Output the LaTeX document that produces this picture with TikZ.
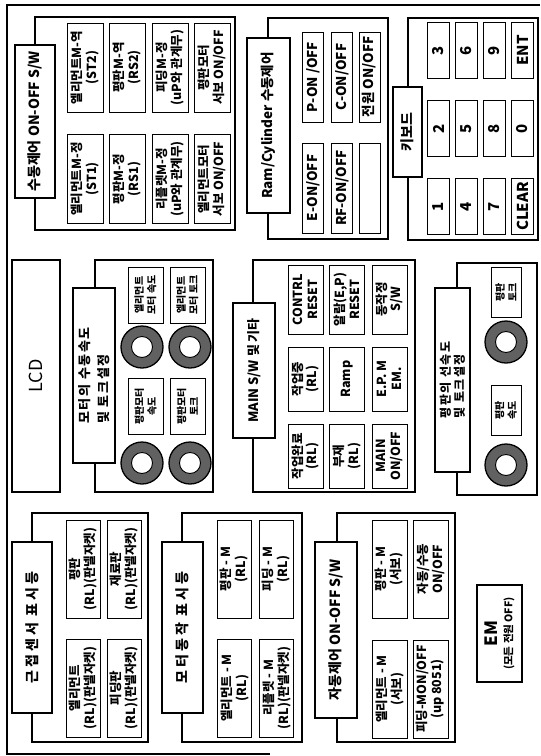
\documentclass[tikz,border=0pt]{standalone}
\usepackage{fontspec}
\setmainfont{Noto Sans CJK KR}

\begin{document}
\begin{tikzpicture}[x=1pt, y=-1pt,
  frame/.style={line width=1.1pt},
  wh/.style 2 args={minimum width=#2, minimum height=#1},
  grp/.style={draw, line width=1.1pt, rotate=90, inner sep=0pt},
  ttl/.style={draw, fill=white, line width=1.1pt, rotate=90, align=center, inner sep=1pt,
    font=\fontsize{14}{17}\selectfont\bfseries},
  spaced/.style={font=\fontsize{14}{17}\selectfont\bfseries\addfontfeature{LetterSpace=22}},
  btn/.style={draw, line width=1pt, rotate=90, align=center, inner sep=1pt,
    font=\fontsize{12.5}{15}\selectfont\bfseries},
  knob/.style={circle, draw, line width=1.3pt, fill=black!62, minimum size=42, inner sep=0pt},
  hole/.style={circle, draw, line width=0.9pt, fill=white, minimum size=21, inner sep=0pt}
]
\useasboundingbox (0,0) rectangle (541,756);

% outer frame
\draw[frame] (540,5) -- (7,5) -- (7,754) -- (270,754);

% 수동제어 ON-OFF S/W
\node[grp, wh={200}{213}] (man) at (135,123.5) {};
\node[ttl, wh={40}{153}] (manT) at (35,121.5) {수동제어 ON-OFF S/W};
\node[btn, wh={36}{89}] (man1) at (85,67.5) {엘리먼트M-역\\(ST2)};
\node[btn, wh={36}{89}] (man2) at (127.5,67.5) {평판M-역\\(RS2)};
\node[btn, wh={36}{89}] (man3) at (170,67.5) {피딩M-정\\(uP와 관계무)};
\node[btn, wh={36}{89}] (man4) at (212,67.5) {평판모터\\서보 ON/OFF};
\node[btn, wh={36}{89}] (man5) at (85,179) {엘리먼트M-정\\(ST1)};
\node[btn, wh={36}{89}] (man6) at (127.5,179) {평판M-정\\(RS1)};
\node[btn, wh={36}{89}] (man7) at (170,179) {리플렛M-정\\(uP와 관계무)};
\node[btn, wh={36}{89}] (man8) at (212,179) {엘리먼트모터\\서보 ON/OFF};

% Ram/Cylinder 수동제어
\node[grp, wh={120}{221}] (ram) at (328,128.5) {};
\node[ttl, wh={43}{175}, font=\fontsize{13.5}{16}\selectfont\bfseries] (ramT) at (268.5,125.5) {Ram/Cylinder 수동제어};
\node[btn, wh={21}{90}, font=\fontsize{13.5}{16}\selectfont\bfseries] (ram1) at (313,77) {P-ON /OFF};
\node[btn, wh={21}{90}, font=\fontsize{13.5}{16}\selectfont\bfseries] (ram2) at (342,77) {C-ON/OFF};
\node[btn, wh={21}{90}, font=\fontsize{13.5}{16}\selectfont\bfseries] (ram3) at (369.5,77) {전원 ON/OFF};
\node[btn, wh={21}{90}, font=\fontsize{13.5}{16}\selectfont\bfseries] (ram4) at (313,188) {E-ON/OFF};
\node[btn, wh={21}{90}, font=\fontsize{13.5}{16}\selectfont\bfseries] (ram5) at (342,188) {RF-ON/OFF};
\node[btn, wh={21}{90}] (ram6) at (369.5,188) {};

% 키보드
\node[grp, wh={130}{222}] (key) at (473,129) {};
\node[ttl, wh={29}{90}] (keyT) at (407.5,132) {키보드};
\node[btn, wh={22}{56}, font=\fontsize{15}{17}\selectfont\bfseries] (k3) at (438.5,50.5) {3};
\node[btn, wh={22}{56}, font=\fontsize{15}{17}\selectfont\bfseries] (k6) at (466,50.5) {6};
\node[btn, wh={22}{56}, font=\fontsize{15}{17}\selectfont\bfseries] (k9) at (494,50.5) {9};
\node[btn, wh={22}{56}, font=\fontsize{15}{17}\selectfont\bfseries] (kent) at (522.5,50.5) {ENT};
\node[btn, wh={22}{56}, font=\fontsize{15}{17}\selectfont\bfseries] (k2) at (438.5,128.5) {2};
\node[btn, wh={22}{56}, font=\fontsize{15}{17}\selectfont\bfseries] (k5) at (466,128.5) {5};
\node[btn, wh={22}{56}, font=\fontsize{15}{17}\selectfont\bfseries] (k8) at (494,128.5) {8};
\node[btn, wh={22}{56}, font=\fontsize{15}{17}\selectfont\bfseries] (k0) at (522.5,128.5) {0};
\node[btn, wh={22}{56}, font=\fontsize{15}{17}\selectfont\bfseries] (k1) at (438.5,206.5) {1};
\node[btn, wh={22}{56}, font=\fontsize{15}{17}\selectfont\bfseries] (k4) at (466,206.5) {4};
\node[btn, wh={22}{56}, font=\fontsize{15}{17}\selectfont\bfseries] (k7) at (494,206.5) {7};
\node[btn, wh={22}{56}, font=\fontsize{15}{17}\selectfont\bfseries] (kclr) at (522.5,206.5) {CLEAR};

% LCD
\node[btn, wh={48}{232}, line width=1.1pt, font=\fontsize{18}{20}\selectfont] (lcd) at (36,376) {LCD};

% 모터의 수동속도 및 토크설정
\node[grp, wh={118}{232}] (mot) at (154,376) {};
\node[ttl, wh={42}{175}, align=left, font=\fontsize{13}{19}\selectfont\bfseries\addfontfeature{LetterSpace=12}] (motT) at (94,375.5) {모터의 수동속도\\및 토크설정};
\node[btn, wh={35}{56}, font=\fontsize{10}{12.5}\selectfont\bfseries] (mot1) at (145.5,295) {엘리먼트\\모터 속도};
\node[btn, wh={35}{56}, font=\fontsize{10}{12.5}\selectfont\bfseries] (mot2) at (187.5,295) {엘리먼트\\모터 토크};
\node[btn, wh={35}{56}, font=\fontsize{10}{12.5}\selectfont\bfseries] (mot3) at (145.5,406.5) {평판모터\\속도};
\node[btn, wh={35}{56}, font=\fontsize{10}{12.5}\selectfont\bfseries] (mot4) at (187.5,406.5) {평판모터\\토크};
\node[knob] (kn1) at (142,347) {};
\node[hole] (kn1h) at (kn1) {};
\node[knob] (kn2) at (190,347) {};
\node[hole] (kn2h) at (kn2) {};
\node[knob] (kn3) at (142,463) {};
\node[hole] (kn3h) at (kn3) {};
\node[knob] (kn4) at (190,463) {};
\node[hole] (kn4h) at (kn4) {};

% MAIN S/W 및 기타
\node[grp, wh={162}{232}] (mai) at (334,376) {};
\node[ttl, wh={42}{135}, font=\fontsize{13}{16}\selectfont\bfseries] (maiT) at (254,370.5) {MAIN S/W 및 기타};
\node[btn, wh={35}{69}, font=\fontsize{12.5}{14.5}\selectfont\bfseries] (mai1) at (305.5,299.5) {CONTRL\\RESET};
\node[btn, wh={35}{69}, font=\fontsize{12.5}{14.5}\selectfont\bfseries] (mai2) at (347,299.5) {알람(E,P)\\RESET};
\node[btn, wh={35}{69}, font=\fontsize{12.5}{14.5}\selectfont\bfseries] (mai3) at (389.5,299.5) {동작정\\S/W};
\node[btn, wh={35}{64}, font=\fontsize{12.5}{14.5}\selectfont\bfseries] (mai4) at (305.5,379) {작업중\\(RL)};
\node[btn, wh={35}{64}, font=\fontsize{12.5}{14.5}\selectfont\bfseries] (mai5) at (347,379) {Ramp};
\node[btn, wh={35}{64}, font=\fontsize{12.5}{14.5}\selectfont\bfseries] (mai6) at (389.5,379) {E.P. M\\EM.};
\node[btn, wh={35}{64}, font=\fontsize{12.5}{14.5}\selectfont\bfseries] (mai7) at (305.5,456) {작업완료\\(RL)};
\node[btn, wh={35}{64}, font=\fontsize{12.5}{14.5}\selectfont\bfseries] (mai8) at (347,456) {부재\\(RL)};
\node[btn, wh={35}{64}, font=\fontsize{12.5}{14.5}\selectfont\bfseries] (mai9) at (389.5,456) {MAIN\\ON/OFF};

% 평판의 선속도 및 토크설정
\node[grp, wh={80}{232}] (pla) at (497,379) {};
\node[ttl, wh={35}{184}, align=left, font=\fontsize{12}{14}\selectfont\bfseries\addfontfeature{LetterSpace=12}] (plaT) at (452.5,380) {평판의 선속도\\및 토크설정};
\node[btn, wh={30}{50}, font=\fontsize{10}{12.5}\selectfont\bfseries] (pla1) at (506,292) {평판\\토크};
\node[btn, wh={30}{50}, font=\fontsize{10}{12.5}\selectfont\bfseries] (pla2) at (506,410) {평판\\속도};
\node[knob] (kn5) at (506,342) {};
\node[hole] (kn5h) at (kn5) {};
\node[knob] (kn6) at (506,465) {};
\node[hole] (kn6h) at (kn6) {};

% 근접센서 표시등
\node[grp, wh={116}{229}] (sen) at (90,627.5) {};
\node[ttl, wh={40}{171}, spaced] (senT) at (32,627.5) {근접센서 표시등};
\node[btn, wh={34}{98}] (sen1) at (83,569) {평판\\(RL)(판넬자켓)};
\node[btn, wh={34}{98}] (sen2) at (124,569) {재료판\\(RL)(판넬자켓)};
\node[btn, wh={34}{98}] (sen3) at (83,688) {엘리먼트\\(RL)(판넬자켓)};
\node[btn, wh={34}{98}] (sen4) at (124,688) {피딩판\\(RL)(판넬자켓)};

% 모터동작 표시등
\node[grp, wh={120}{229}] (mon) at (242,627.5) {};
\node[ttl, wh={41}{171}, spaced] (monT) at (182.5,627.5) {모터동작 표시등};
\node[btn, wh={34}{98}] (mon1) at (234.5,569) {평판 - M\\(RL)};
\node[btn, wh={34}{98}] (mon2) at (276.5,569) {피딩 - M\\(RL)};
\node[btn, wh={34}{98}] (mon3) at (234.5,688) {엘리먼트 - M\\(RL)};
\node[btn, wh={34}{98}] (mon4) at (276.5,688) {리플렛 - M\\(RL)(판넬자켓)};

% 자동제어 ON-OFF S/W
\node[grp, wh={118}{229}] (aut) at (396,627.5) {};
\node[ttl, wh={42}{176}] (autT) at (336,630) {자동제어 ON-OFF S/W};
\node[btn, wh={35}{98}] (aut1) at (389.5,569) {평판 - M\\(서보)};
\node[btn, wh={35}{98}] (aut2) at (430.5,569) {자동/수동\\ON/OFF};
\node[btn, wh={35}{98}] (aut3) at (389.5,689) {엘리먼트 - M\\(서보)};
\node[btn, wh={35}{98}] (aut4) at (430.5,689) {피딩-MON/OFF\\(up 8051)};

% EM
\node[btn, wh={45}{97}, line width=1.1pt] (em) at (499.5,633.5)
  {{\fontsize{17}{19}\selectfont\bfseries EM}\\{\fontsize{10.5}{12}\selectfont\bfseries (모든 전원 OFF)}};
\end{tikzpicture}
\end{document}
